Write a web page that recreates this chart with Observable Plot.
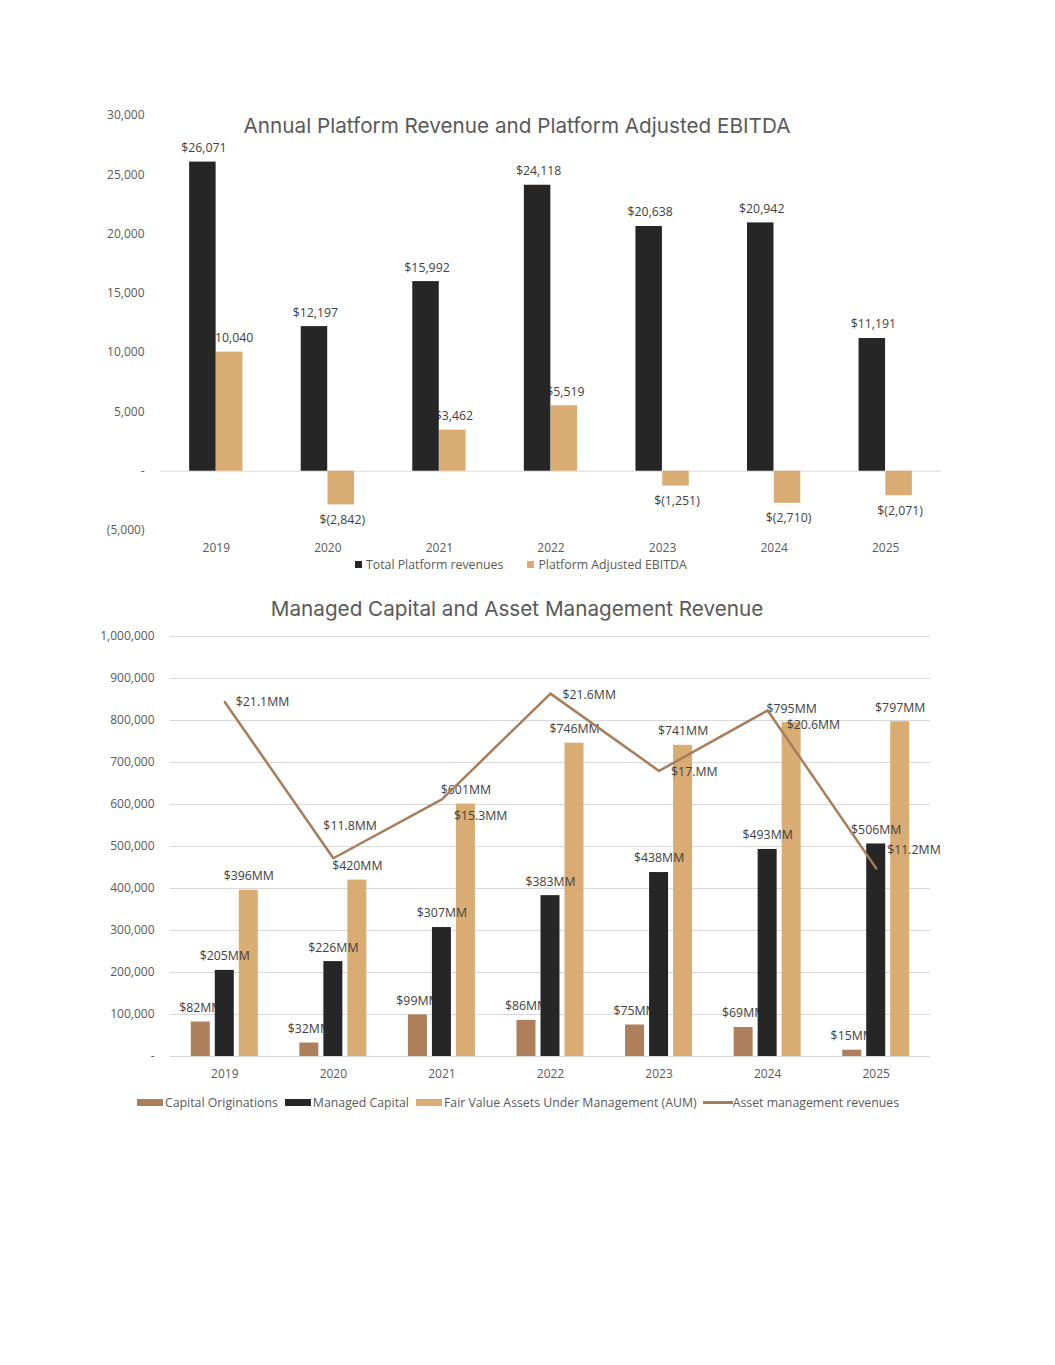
<!DOCTYPE html>
<html>
<head>
<meta charset="utf-8">
<script src="https://cdn.jsdelivr.net/npm/d3@7"></script>
<script src="https://cdn.jsdelivr.net/npm/@observablehq/plot@0.6"></script>
<style>
  html, body { margin: 0; padding: 0; background: #fff; }
  body { width: 1055px; height: 1365px; position: relative; font-family: "Open Sans", sans-serif; overflow: hidden; }
  .abs { position: absolute; }
  .title { position: absolute; left: 0; width: 1034px; text-align: center; font-family: "Inter", "Open Sans", sans-serif; font-size: 20.7px; color: #595959; white-space: nowrap; }
  .legend { position: absolute; font-size: 12.3px; color: #595959; white-space: nowrap; display: flex; align-items: center; }
  .legend .item { display: flex; align-items: center; margin-right: 8px; }
  .sq { display: inline-block; width: 7px; height: 7px; margin-right: 4px; }
  .rect { display: inline-block; width: 26px; height: 7px; margin-right: 2px; }
  .ln { display: inline-block; width: 30px; height: 3px; margin-right: 0px; }
</style>
</head>
<body>
<div id="c1" class="abs" style="left:0;top:100px;"></div>
<div class="title" style="top:113px;">Annual Platform Revenue and Platform Adjusted EBITDA</div>
<div class="legend" style="left:355px;top:556px;">
  <span class="item" style="margin-right:24px"><span class="sq" style="background:#262626"></span>Total Platform revenues</span>
  <span class="item"><span class="sq" style="background:#d9ac73"></span>Platform Adjusted EBITDA</span>
</div>
<div id="c2" class="abs" style="left:0;top:620px;"></div>
<div class="title" style="top:596px;">Managed Capital and Asset Management Revenue</div>
<div class="legend" style="left:137px;top:1094px;">
  <span class="item" style="margin-right:7px"><span class="rect" style="background:#ad7f5b"></span>Capital Originations</span>
  <span class="item" style="margin-right:7px"><span class="rect" style="background:#262626"></span>Managed Capital</span>
  <span class="item" style="margin-right:6px"><span class="rect" style="background:#d9ac73"></span>Fair Value Assets Under Management (AUM)</span>
  <span class="item"><span class="ln" style="background:#a87d5b"></span>Asset management revenues</span>
</div>
<script>
// ---------- Data: chart 1 ----------
const years = ["2019", "2020", "2021", "2022", "2023", "2024", "2025"];
const totalPlatformRevenues = [26071, 12197, 15992, 24118, 20638, 20942, 11191];
const platformAdjustedEBITDA = [10040, -2842, 3462, 5519, -1251, -2710, -2071];
const y1Ticks = [-5000, 0, 5000, 10000, 15000, 20000, 25000, 30000];

// ---------- Data: chart 2 (thousands) ----------
const capitalOriginations = [82000, 32000, 99000, 86000, 75000, 69000, 15000];
const managedCapital = [205000, 226000, 307000, 383000, 438000, 493000, 506000];
const fairValueAUM = [396000, 420000, 601000, 746000, 741000, 795000, 797000];
const assetMgmtRevenueMM = [21.1, 11.8, 15.3, 21.6, 17.0, 20.6, 11.2];
const assetMgmtRevenueLabels = ["$21.1MM", "$11.8MM", "$15.3MM", "$21.6MM", "$17.MM", "$20.6MM", "$11.2MM"];
const y2Ticks = [0, 100000, 200000, 300000, 400000, 500000, 600000, 700000, 800000, 900000, 1000000];
const secondaryAxisMax = 25; // hidden secondary axis 0–25 ($MM) aligned with 0–1,000,000

const BLACK = "#262626", TAN = "#d9ac73", BROWN = "#ad7f5b", LINE = "#a87d5b", LABEL = "#404040";
const FONT = "Open Sans";

// ---------- Chart 1 ----------
const fmtAcct = v => v === 0 ? "-" : v < 0 ? `(${d3.format(",")(-v)})` : d3.format(",")(v);
const fmtDollar = v => v < 0 ? `$(${d3.format(",")(-v)})` : `$${d3.format(",")(v)}`;
const rev = years.map((y, i) => ({year: y, value: totalPlatformRevenues[i]}));
const ebitda = years.map((y, i) => ({year: y, value: platformAdjustedEBITDA[i]}));

const W = 1055;
const c1Left = 160, c1Right = 114;
const band1 = (W - c1Left - c1Right) / years.length;
const bw1 = 26.5, inset1 = (band1 - bw1) / 2, off1 = 13.4;

const chart1 = Plot.plot({
  width: W, height: 460,
  marginLeft: c1Left, marginRight: c1Right, marginTop: 15, marginBottom: 30,
  style: {fontFamily: FONT, fontSize: "12px", color: "#595959", background: "transparent"},
  x: {domain: years, padding: 0, round: false, label: null, tickSize: 0, tickPadding: 13},
  y: {domain: [-5000, 30000], ticks: y1Ticks, tickFormat: fmtAcct, label: null, tickSize: 0, tickPadding: 16},
  marks: [
    Plot.ruleY([0], {stroke: "#d9d9d9", strokeWidth: 1}),
    // labels for EBITDA (drawn first so revenue bars overlap like the original)
    Plot.text(ebitda.filter(d => d.value >= 0), {x: "year", y: "value", text: d => fmtDollar(d.value), dx: off1 + 1, dy: -14, fill: LABEL, fontSize: 12.3}),
    Plot.text(ebitda.filter(d => d.value < 0), {x: "year", y: "value", text: d => fmtDollar(d.value), dx: off1 + 1, dy: 15, fill: LABEL, fontSize: 12.3}),
    Plot.barY(ebitda, {x: "year", y: "value", fill: TAN, dx: off1, insetLeft: inset1, insetRight: inset1}),
    Plot.barY(rev, {x: "year", y: "value", fill: BLACK, dx: -off1, insetLeft: inset1, insetRight: inset1}),
    Plot.text(rev, {x: "year", y: "value", text: d => fmtDollar(d.value), dx: -off1 + 1, dy: -14, fill: LABEL, fontSize: 12.3})
  ]
});
document.getElementById("c1").appendChild(chart1);

// ---------- Chart 2 ----------
const fmtAxis2 = v => v === 0 ? "-" : d3.format(",")(v);
const fmtMM = v => `$${v / 1000}MM`;
const orig = years.map((y, i) => ({year: y, value: capitalOriginations[i]}));
const mc = years.map((y, i) => ({year: y, value: managedCapital[i]}));
const aum = years.map((y, i) => ({year: y, value: fairValueAUM[i]}));
const yMax2 = 1000000;
const amr = years.map((y, i) => ({year: y, value: assetMgmtRevenueMM[i] / secondaryAxisMax * yMax2, label: assetMgmtRevenueLabels[i]}));

const c2Left = 170, c2Right = 125;
const band2 = (W - c2Left - c2Right) / years.length;
const bw2 = 19, inset2 = (band2 - bw2) / 2, off2 = 24;

// label offsets (as in original, where labels were nudged to avoid collisions)
const amrLabelOffsets = {
  "2019": [11, 0], "2020": [-10, -32], "2021": [12, 17], "2022": [12, 1],
  "2023": [12, 1], "2024": [19, 15], "2025": [11, -18]
};
const amrLabelMarks = Object.entries(amrLabelOffsets).map(([yr, [dx, dy]]) =>
  Plot.text(amr.filter(d => d.year === yr), {x: "year", y: "value", text: "label", textAnchor: "start", dx, dy, fill: LABEL, fontSize: 12.3})
);

const chart2 = Plot.plot({
  width: W, height: 466,
  marginLeft: c2Left, marginRight: c2Right, marginTop: 16, marginBottom: 30,
  style: {fontFamily: FONT, fontSize: "12px", color: "#595959", background: "transparent"},
  x: {domain: years, padding: 0, round: false, label: null, tickSize: 0, tickPadding: 13},
  y: {domain: [0, yMax2], ticks: y2Ticks, tickFormat: fmtAxis2, label: null, tickSize: 0, tickPadding: 16},
  marks: [
    Plot.ruleY(y2Ticks, {stroke: "#d9d9d9", strokeWidth: 1}),
    Plot.text(orig, {x: "year", y: "value", text: d => fmtMM(d.value), dx: -off2, dy: -14, fill: LABEL, fontSize: 12.3}),
    Plot.barY(orig, {x: "year", y: "value", fill: BROWN, dx: -off2, insetLeft: inset2, insetRight: inset2}),
    Plot.barY(mc, {x: "year", y: "value", fill: BLACK, dx: 0, insetLeft: inset2, insetRight: inset2}),
    Plot.barY(aum, {x: "year", y: "value", fill: TAN, dx: off2, insetLeft: inset2, insetRight: inset2}),
    Plot.text(mc, {x: "year", y: "value", text: d => fmtMM(d.value), dx: 0, dy: -14, fill: LABEL, fontSize: 12.3}),
    Plot.text(aum, {x: "year", y: "value", text: d => fmtMM(d.value), dx: off2, dy: -14, fill: LABEL, fontSize: 12.3}),
    Plot.line(amr, {x: "year", y: "value", stroke: LINE, strokeWidth: 2.5}),
    ...amrLabelMarks
  ]
});
document.getElementById("c2").appendChild(chart2);
</script>
</body>
</html>
